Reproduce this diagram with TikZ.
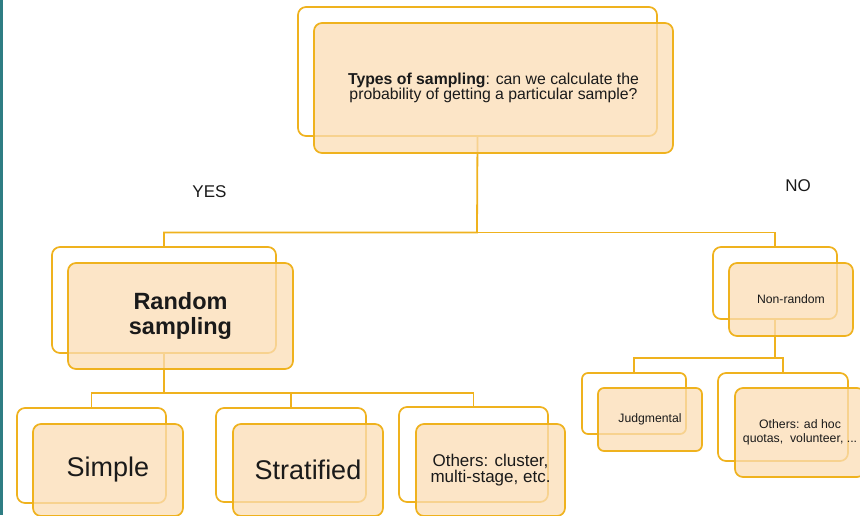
\documentclass[tikz,border=0pt]{standalone}
\usepackage{fontspec}
\setmainfont{Liberation Sans}
\definecolor{gold}{HTML}{EFB21E}
\definecolor{peach}{HTML}{FBDDB5}
\definecolor{teal}{HTML}{2E7D83}
\definecolor{txt}{HTML}{1A1A1A}
\begin{document}
\begin{tikzpicture}[x=1pt,y=-1pt,
  backbox/.style={draw=gold,line width=1.7pt,fill=white,rounded corners=8pt,inner sep=0pt},
  frontbox/.style={draw=gold,line width=1.7pt,fill=peach,fill opacity=0.75,text opacity=1,rounded corners=8pt,inner sep=0pt,text=txt,align=center},
  conn/.style={draw=gold,line width=1.8pt},
  lbl/.style={text=txt,inner sep=0pt,font=\fontsize{17}{17}\selectfont}]
\useasboundingbox (0,0) rectangle (860,515);
\fill[teal] (0,0) rectangle (2.7,515);
% back boxes
\node[backbox,minimum width=359pt,minimum height=129pt] (tb) at (477.5,71.5) {};
\node[backbox,minimum width=224pt,minimum height=106pt] (rb) at (164,300) {};
\node[backbox,minimum width=124pt,minimum height=72pt] (nb) at (775,283) {};
\node[backbox,minimum width=104pt,minimum height=61pt,rounded corners=6pt] (jb) at (634,403.5) {};
\node[backbox,minimum width=130pt,minimum height=88pt] (ob) at (783,417) {};
\node[backbox,minimum width=149pt,minimum height=95pt] (sb) at (91.5,455.5) {};
\node[backbox,minimum width=150pt,minimum height=94pt] (stb) at (291,455) {};
\node[backbox,minimum width=149pt,minimum height=95pt] (cb) at (473.5,454.5) {};
% junctions
\coordinate (j1) at (477,232.5);
\coordinate (j2) at (164,393);
\coordinate (j3) at (775,358);
% connectors
\draw[conn] (tb.south) -- (j1) -| (rb.north);
\draw[conn] (j1) -| (nb.north);
\draw[conn] (rb.south) -- (j2) -| (sb.north);
\draw[conn] (j2) -| (stb.north);
\draw[conn] (j2) -| (cb.north);
\draw[conn] (nb.south) -- (j3) -| (jb.north);
\draw[conn] (j3) -| (ob.north);
% front boxes
\node[frontbox,minimum width=359pt,minimum height=130pt,font=\fontsize{15.8}{15.5}\selectfont] (tf) at (493.5,88)
  {\textbf{Types of sampling}: can we calculate the\\probability of getting a particular sample?};
\node[frontbox,minimum width=225pt,minimum height=106pt,font=\bfseries\fontsize{23.5}{25}\selectfont] (rf) at (180.5,316) {Random\\sampling};
\node[frontbox,minimum width=124pt,minimum height=73pt,font=\fontsize{12.2}{13}\selectfont] (nf) at (791,299.5) {Non-random};
\node[frontbox,minimum width=104pt,minimum height=63pt,rounded corners=6pt,font=\fontsize{12.2}{13}\selectfont] (jf) at (650,419.5) {Judgmental};
\node[frontbox,minimum width=130pt,minimum height=89pt,font=\fontsize{12.3}{14}\selectfont] (of) at (800,432.5) {Others: ad hoc\\quotas,\ \ volunteer, ...};
\node[frontbox,minimum width=150pt,minimum height=92pt,font=\fontsize{27}{27}\selectfont] (sf) at (108,470) {Simple};
\node[frontbox,minimum width=150pt,minimum height=92pt,font=\fontsize{27}{27}\selectfont] (stf) at (308,470) {Stratified};
\node[frontbox,minimum width=149pt,minimum height=92pt,font=\fontsize{17}{16.5}\selectfont] (cf) at (490.5,470) {Others: cluster,\\multi-stage, etc.};
% labels
\node[lbl,anchor=base] (yes) at (209.5,197) {YES};
\node[lbl,anchor=base] (no) at (798,191) {NO};
\end{tikzpicture}
\end{document}
